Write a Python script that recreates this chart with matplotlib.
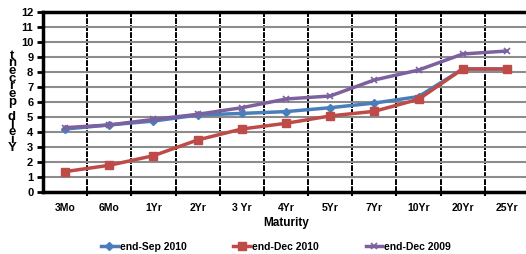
#!/usr/bin/env python3

import matplotlib
matplotlib.use('Agg')
import matplotlib.pyplot as plt
from matplotlib.ticker import FixedLocator, MultipleLocator

# data
maturity = ['3Mo', '6Mo', '1Yr', '2Yr', '3 Yr', '4Yr', '5Yr', '7Yr', '10Yr', '20Yr', '25Yr']
sep_2010 = [4.20, 4.47, 4.73, 5.13, 5.24, 5.36, 5.62, 5.93, 6.36, 8.20, 8.20]
dec_2010 = [1.36, 1.78, 2.42, 3.47, 4.20, 4.58, 5.07, 5.38, 6.18, 8.20, 8.20]
dec_2009 = [4.29, 4.47, 4.84, 5.18, 5.62, 6.20, 6.40, 7.47, 8.13, 9.20, 9.40]
series_names = ['end-Sep 2010', 'end-Dec 2010', 'end-Dec 2009']

plt.rcParams['font.family'] = ['Liberation Sans', 'DejaVu Sans']
plt.rcParams['font.weight'] = 'bold'

fig = plt.figure(figsize=(5.26, 2.54), dpi=100)
ax = fig.add_axes([43/526, 62/254, 486/526, 180/254])

x = list(range(len(maturity)))
ax.plot(x, sep_2010, color='#4A7EBB', lw=2.5, marker='D', ms=4, label=series_names[0])
ax.plot(x, dec_2010, color='#BE4B48', lw=2.5, marker='s', ms=5.5, label=series_names[1])
ax.plot(x, dec_2009, color='#7D60A0', lw=2.5, marker='x', ms=5, mew=1.2, label=series_names[2])

ax.set_xlim(-0.5, len(maturity) - 0.5)
ax.set_ylim(0, 12)
ax.yaxis.set_major_locator(MultipleLocator(1))
ax.set_xticks(x)
ax.set_xticklabels(maturity, fontsize=7.5, fontweight='bold')
ax.xaxis.set_minor_locator(FixedLocator([i + 0.5 for i in range(len(maturity) - 1)]))
ax.tick_params(axis='x', which='major', length=0, pad=8)
ax.tick_params(axis='x', which='minor', length=3, width=1.5, direction='out')
ax.tick_params(axis='y', which='major', length=4, width=2, labelsize=8, pad=3)

ax.grid(axis='y', which='major', color='#8c8c8c', lw=1.5)
ax.grid(axis='x', which='minor', color='black', lw=1.4, ls=(0, (3, 0.6)))
ax.set_axisbelow(True)
for sp in ax.spines.values():
    sp.set_linewidth(2.5)

ax.set_xlabel('Maturity', fontsize=8.5, fontweight='bold', labelpad=3)

# stacked y label
ylab = 'Yield percent'
fig.text(12/526, 0.60, '\n'.join(reversed(ylab)), fontsize=9.5, fontweight='bold',
         ha='center', va='center', linespacing=0.52)

fig.legend(loc='center', bbox_to_anchor=(276/526, 7/254), ncol=3, frameon=False,
           fontsize=7.5, handlelength=1.6, columnspacing=4.5, handletextpad=0.2)

fig.savefig('out.png', dpi=100)
